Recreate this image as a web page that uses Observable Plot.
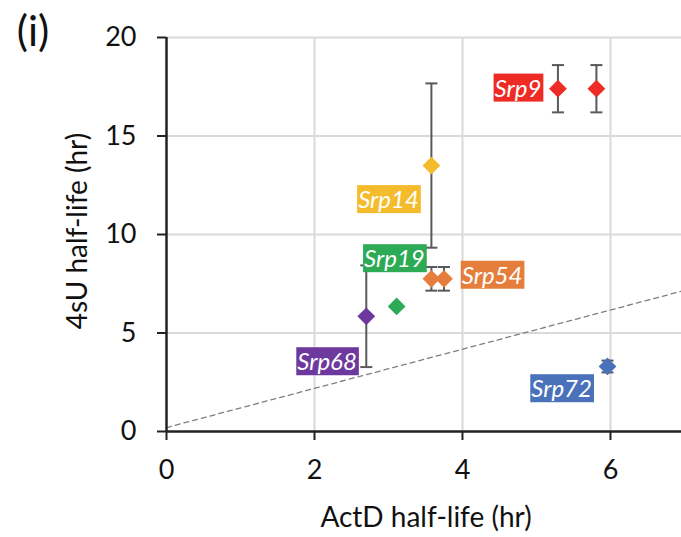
<!DOCTYPE html>
<html>
<head>
<meta charset="utf-8">
<script src="https://cdn.jsdelivr.net/npm/d3@7"></script>
<script src="https://cdn.jsdelivr.net/npm/@observablehq/plot@0.6"></script>
<style>
  html, body { margin: 0; padding: 0; background: white; }
  #chart { width: 681px; height: 537px; }
</style>
</head>
<body>
<div id="chart"></div>
<script>
// Data points (one diamond per replicate)
const genes = ["Srp9", "Srp9", "Srp14", "Srp54", "Srp54", "Srp19", "Srp68", "Srp72"];
const actD  = [5.29, 5.81, 3.58, 3.58, 3.75, 3.11, 2.70, 5.96];
const fourSU = [17.40, 17.40, 13.50, 7.75, 7.75, 6.35, 5.85, 3.30];
const err   = [1.20, 1.20, 4.17, 0.60, 0.60, 0, 2.58, 0.30];

// Gene labels (centre of each coloured label, in data units)
const labelGenes = ["Srp9", "Srp14", "Srp19", "Srp54", "Srp68", "Srp72"];
const labelActD  = [4.75, 3.00, 3.08, 4.40, 2.17, 5.34];
const label4sU   = [17.39, 11.73, 8.73, 7.89, 3.50, 2.13];
const geneColors = ["#EE2B24", "#F4BC2C", "#2DAA55", "#E57E3C", "#6E399E", "#4A72BA"];

// Axes
const xTicks = [0, 2, 4, 6];
const yTicks = [0, 5, 10, 15, 20];
const xGrid = [2, 4, 6];
const yGrid = [5, 10, 15, 20];

// Dashed reference line
const refX = [0, 6.96];
const refY = [0.2, 7.12];

const points = genes.map((g, i) => ({gene: g, x: actD[i], y: fourSU[i], e: err[i]}));
const bars = points.filter(d => d.e > 0);
const labels = labelGenes.map((g, i) => ({gene: g, x: labelActD[i], y: label4sU[i]}));
const ref = refX.map((x, i) => ({x, y: refY[i]}));

const capSymbol = {
  draw(context) { context.moveTo(-6, 0); context.lineTo(6, 0); }
};
const fmt = d => d3.format("d")(d);

const plot = Plot.plot({
  width: 681,
  height: 537,
  marginLeft: 166,
  marginRight: 0,
  marginTop: 37,
  marginBottom: 106,
  style: {fontFamily: "Lato", fontSize: "27px", color: "#111", background: "white", overflow: "visible"},
  x: {domain: [0, 6.96]},
  y: {domain: [0, 20]},
  color: {domain: labelGenes, range: geneColors},
  marks: [
    Plot.gridX(xGrid, {stroke: "#d9d9d9", strokeOpacity: 1, strokeWidth: 2}),
    Plot.gridY(yGrid, {stroke: "#d9d9d9", strokeOpacity: 1, strokeWidth: 2}),
    Plot.line(ref, {x: "x", y: "y", stroke: "#7f7f7f", strokeWidth: 1.3, strokeDasharray: "5,4"}),
    Plot.ruleY([0], {stroke: "#222", strokeWidth: 2.5}),
    Plot.ruleX([0], {stroke: "#222", strokeWidth: 2.5}),
    Plot.axisY({ticks: yTicks, tickFormat: fmt, tickSize: 9, tickPadding: 21, fontSize: 27, strokeWidth: 2, stroke: "#222", label: null}),
    Plot.axisX({ticks: xTicks, tickFormat: fmt, tickSize: 9, tickPadding: 19, fontSize: 27, strokeWidth: 2, stroke: "#222", label: null}),
    Plot.ruleX(bars, {x: "x", y1: d => d.y - d.e, y2: d => d.y + d.e, stroke: "#595959", strokeWidth: 2}),
    Plot.dot(bars, {x: "x", y: d => d.y - d.e, symbol: capSymbol, stroke: "#595959", strokeWidth: 2, fill: "none"}),
    Plot.dot(bars, {x: "x", y: d => d.y + d.e, symbol: capSymbol, stroke: "#595959", strokeWidth: 2, fill: "none"}),
    Plot.dot(points, {x: "x", y: "y", symbol: "diamond2", r: 8, fill: "gene", stroke: "none"}),
    Plot.text(labels, {x: "x", y: "y", text: "gene", fill: "white", fontSize: 24, fontStyle: "italic", textAnchor: "middle"})
  ]
});

document.getElementById("chart").appendChild(plot);

// coloured boxes behind the gene labels
const svg = d3.select(plot);
const colorOf = new Map(labelGenes.map((g, i) => [g, geneColors[i]]));
svg.selectAll("text").each(function() {
  const t = this.textContent;
  if (!colorOf.has(t)) return;
  const bb = this.getBBox();
  const rect = document.createElementNS("http://www.w3.org/2000/svg", "rect");
  rect.setAttribute("x", bb.x - 1);
  rect.setAttribute("y", bb.y + 1);
  rect.setAttribute("width", bb.width + 3);
  rect.setAttribute("height", bb.height - 1);
  rect.setAttribute("fill", colorOf.get(t));
  const tr = this.getAttribute("transform");
  if (tr) rect.setAttribute("transform", tr);
  this.parentNode.insertBefore(rect, this);
});

// axis titles and panel tag
svg.append("text")
  .attr("x", 426).attr("y", 520)
  .attr("text-anchor", "middle").attr("dominant-baseline", "middle")
  .attr("font-size", 28).attr("fill", "#111")
  .text("ActD half-life (hr)");
svg.append("text")
  .attr("transform", "translate(80,231) rotate(-90)")
  .attr("text-anchor", "middle").attr("dominant-baseline", "middle")
  .attr("font-size", 28).attr("fill", "#111")
  .text("4sU half-life (hr)");
svg.append("text")
  .attr("x", 33).attr("y", 35)
  .attr("text-anchor", "middle").attr("dominant-baseline", "middle")
  .attr("font-size", 42).attr("fill", "#111")
  .text("(i)");
</script>
</body>
</html>
